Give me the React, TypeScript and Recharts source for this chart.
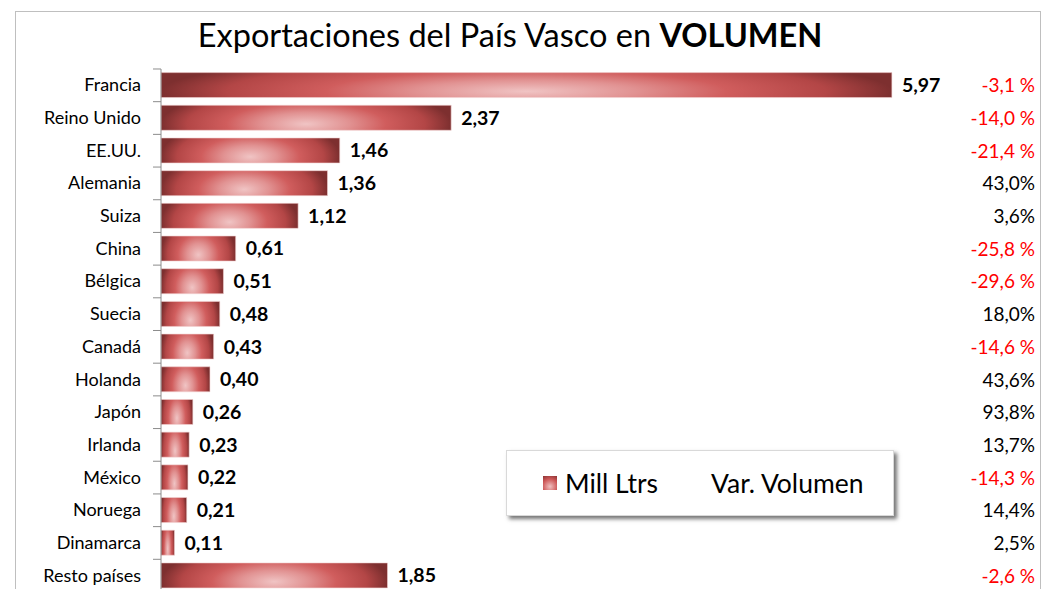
import { Bar, BarChart, LabelList, XAxis, YAxis } from "recharts";

const countries = [
  "Francia",
  "Reino Unido",
  "EE.UU.",
  "Alemania",
  "Suiza",
  "China",
  "Bélgica",
  "Suecia",
  "Canadá",
  "Holanda",
  "Japón",
  "Irlanda",
  "México",
  "Noruega",
  "Dinamarca",
  "Resto países",
];
const millLtrs = [5.97, 2.37, 1.46, 1.36, 1.12, 0.61, 0.51, 0.48, 0.43, 0.4, 0.26, 0.23, 0.22, 0.21, 0.11, 1.85];
const varVolumen = [-3.1, -14.0, -21.4, 43.0, 3.6, -25.8, -29.6, 18.0, -14.6, 43.6, 93.8, 13.7, -14.3, 14.4, 2.5, -2.6];

const data = countries.map((name, i) => ({ name, mill: millLtrs[i], var: varVolumen[i] }));

const FONT = "Lato, 'Open Sans', sans-serif";
const BAND = 32.7;
const AXIS_GRAY = "#8c8c8c";

const fmtMill = (v: number) => v.toFixed(2).replace(".", ",");
const fmtVar = (v: number) => (v < 0 ? `${v.toFixed(1).replace(".", ",")} %` : `${v.toFixed(1).replace(".", ",")}%`);

function CountryTick(props: any) {
  const { x, y, payload } = props;
  const top = y - BAND / 2;
  return (
    <g>
      <line x1={x - 8} x2={x} y1={top} y2={top} stroke={AXIS_GRAY} />
      <text x={x - 20} y={y} dy={6} textAnchor="end" fontSize={18} fill="#000" fontFamily={FONT}>
        {payload.value}
      </text>
    </g>
  );
}

function VarTick(props: any) {
  const { x, y, payload } = props;
  const row = data.find((d) => d.name === payload.value);
  if (!row) return null;
  return (
    <text x={x + 17} y={y} dy={7} textAnchor="end" fontSize={19} fontFamily={FONT} fill={row.var < 0 ? "#ff0000" : "#000"}>
      {fmtVar(row.var)}
    </text>
  );
}

export default function App() {
  return (
    <div style={{ position: "absolute", left: 0, top: 0, width: 1042, height: 589, overflow: "hidden", background: "#fff" }}>
      <div
        style={{
          position: "absolute",
          left: 15,
          top: 11,
          width: 1024,
          height: 620,
          border: "1px solid #bfbfbf",
        }}
      />
      <div
        style={{
          position: "absolute",
          left: 0,
          top: 15,
          width: 1020,
          textAlign: "center",
          fontFamily: FONT,
          fontSize: 32.5,
          color: "#000",
        }}
      >
        Exportaciones del País Vasco en <b>VOLUMEN</b>
      </div>
      <div style={{ position: "absolute", left: 0, top: 0 }}>
        <BarChart
          width={1042}
          height={600}
          data={data}
          layout="vertical"
          margin={{ top: 69, right: 0, bottom: 8, left: 0 }}
          barCategoryGap="11%"
        >
          <defs>
            <radialGradient
              id="barGrad"
              cx="0.5"
              cy="0.75"
              r="0.5"
              gradientTransform="translate(0.5,0.75) scale(1,3) translate(-0.5,-0.75)"
            >
              <stop offset="0" stopColor="#f0c4c4" />
              <stop offset="0.3" stopColor="#e19292" />
              <stop offset="0.55" stopColor="#d05d5d" />
              <stop offset="0.82" stopColor="#b34646" />
              <stop offset="1" stopColor="#7d2f2f" />
            </radialGradient>
          </defs>
          <XAxis type="number" domain={[0, 7]} hide />
          <YAxis
            yAxisId="left"
            type="category"
            dataKey="name"
            width={161}
            tickSize={0}
            tickMargin={0}
            tickLine={false}
            axisLine={{ stroke: AXIS_GRAY }}
            tick={<CountryTick />}
            interval={0}
          />
          <YAxis
            yAxisId="right"
            orientation="right"
            type="category"
            dataKey="name"
            width={24}
            tickSize={0}
            tickMargin={0}
            tickLine={false}
            axisLine={false}
            tick={<VarTick />}
            interval={0}
          />
          <Bar
            yAxisId="left"
            dataKey="mill"
            fill="url(#barGrad)"
            stroke="#f1d2d2"
            strokeWidth={0.6}
            isAnimationActive={false}
          >
            <LabelList
              dataKey="mill"
              position="right"
              offset={10}
              formatter={(v: any) => fmtMill(Number(v))}
              fill="#000"
              fontSize={19.5}
              fontWeight="bold"
              fontFamily={FONT}
            />
          </Bar>
        </BarChart>
      </div>
      <div
        style={{
          position: "absolute",
          left: 506,
          top: 450,
          width: 386,
          height: 64,
          background: "#fff",
          border: "1px solid #d9d9d9",
          boxShadow: "3px 3px 4px rgba(0,0,0,0.55)",
          fontFamily: FONT,
          fontSize: 26.5,
          color: "#000",
          display: "flex",
          alignItems: "center",
        }}
      >
        <span
          style={{
            display: "inline-block",
            width: 14,
            height: 14,
            marginLeft: 36,
            marginRight: 8,
            background: "radial-gradient(circle at 50% 75%, #f0c0c0, #cd5757 60%, #8a3333)",
          }}
        />
        <span>Mill Ltrs</span>
        <span style={{ marginLeft: 53 }}>Var. Volumen</span>
      </div>
    </div>
  );
}
